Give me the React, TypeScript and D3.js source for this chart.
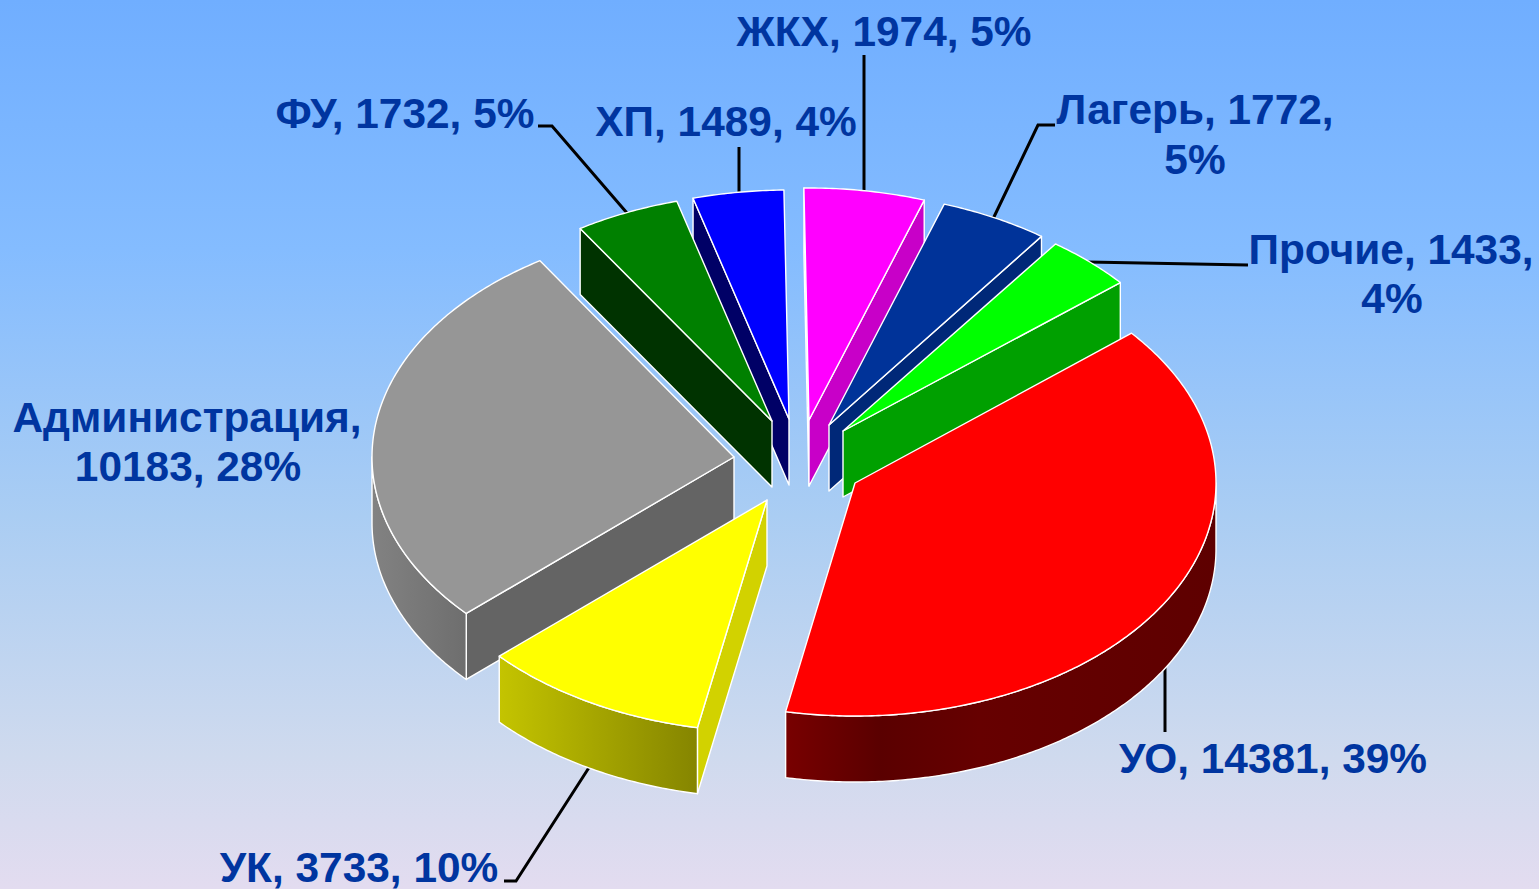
import React from "react";
import * as d3 from "d3";

const WIDTH = 1539;
const HEIGHT = 889;

// ---- data, clockwise from the first slice ----
const categories = ["УО", "УК", "Администрация", "ФУ", "ХП", "ЖКХ", "Лагерь", "Прочие"];
const values = [14381, 3733, 10183, 1732, 1489, 1974, 1772, 1433];
const percents = [39, 10, 28, 5, 4, 5, 5, 4];

// ---- styling ----
const topColors = ["#ff0000", "#ffff00", "#969696", "#008000", "#0000ff", "#ff00ff", "#003399", "#00ff00"];
const faceColors = ["#600000", "#d2d200", "#646464", "#003300", "#000066", "#c800c8", "#002878", "#00a000"];
const wallStops: ([number, string][] | null)[] = [
  [[0, "#780000"], [0.22, "#5a0000"], [0.45, "#660000"], [1, "#5e0000"]],
  [[0, "#c4c400"], [1, "#858500"]],
  [[0, "#828282"], [1, "#6e6e6e"]],
  null, null, null, null, null,
];

// ---- layout ----
const START_DEG = 50;
const DEPTH = 66;
const radiusX = [361, 362, 362, 358, 361, 362, 362, 362];
const radiusY = [233, 232, 232.5, 228, 229, 232, 233, 231];
const apexX = [855, 767, 734, 772, 789, 809, 829, 843];
const apexY = [483, 500, 457, 421, 419, 420, 425, 431];
const drawOrder = [4, 3, 5, 6, 7, 2, 1, 0];

const labelLines = [
  [{ t: `${categories[0]}, ${values[0]}, ${percents[0]}%`, x: 1273, y: 773 }],
  [{ t: `${categories[1]}, ${values[1]}, ${percents[1]}%`, x: 359, y: 882 }],
  [
    { t: `${categories[2]},`, x: 187, y: 432 },
    { t: `${values[2]}, ${percents[2]}%`, x: 188, y: 481 },
  ],
  [{ t: `${categories[3]}, ${values[3]}, ${percents[3]}%`, x: 405, y: 128 }],
  [{ t: `${categories[4]}, ${values[4]}, ${percents[4]}%`, x: 726, y: 136 }],
  [{ t: `${categories[5]}, ${values[5]}, ${percents[5]}%`, x: 884, y: 46 }],
  [
    { t: `${categories[6]}, ${values[6]},`, x: 1195, y: 124 },
    { t: `${percents[6]}%`, x: 1195, y: 174 },
  ],
  [
    { t: `${categories[7]}, ${values[7]},`, x: 1391, y: 264 },
    { t: `${percents[7]}%`, x: 1392, y: 313 },
  ],
];

const leaders: [number, number][][] = [
  [[1165, 665], [1165, 732]],
  [[504, 881], [516, 881], [590, 766]],
  [[538, 126], [552, 126], [627, 213]],
  [[739, 147], [739, 193]],
  [[864, 55], [864, 191]],
  [[1055, 125], [1038, 125], [992, 221]],
  [[1248, 265], [1088, 262]],
];

const TAU = Math.PI * 2;
const line = d3.line<[number, number]>();

const arcs = d3
  .pie<number>()
  .sort(null)
  .value((d) => d)
  .startAngle((START_DEG / 360) * TAU)
  .endAngle((START_DEG / 360) * TAU + TAU)(values);

const rim = (i: number, t: number, dy = 0): [number, number] => [
  apexX[i] + radiusX[i] * Math.sin(t),
  apexY[i] - radiusY[i] * Math.cos(t) + dy,
];

const sample = (a: number, b: number) => {
  const n = Math.max(2, Math.ceil(Math.abs(b - a) / 0.01));
  return d3.range(n + 1).map((k) => a + ((b - a) * k) / n);
};

function App() {
  return (
    <svg
      width={WIDTH}
      height={HEIGHT}
      viewBox={`0 0 ${WIDTH} ${HEIGHT}`}
      style={{ position: "fixed", left: 0, top: 0, display: "block" }}
    >
      <defs>
        <linearGradient id="bg" x1="0" y1="0" x2="0" y2="1">
          <stop offset="0" stopColor="#70aeff" />
          <stop offset="0.28" stopColor="#84bcff" />
          <stop offset="0.58" stopColor="#aacdf3" />
          <stop offset="0.85" stopColor="#cfdaee" />
          <stop offset="1" stopColor="#e3dcf0" />
        </linearGradient>
        {arcs.map((a, i) => {
          const s = wallStops[i];
          if (!s) return null;
          const lo = Math.max(a.startAngle, TAU / 4);
          const hi = Math.min(a.endAngle, (TAU * 3) / 4);
          const xs = sample(lo, hi).map((t) => rim(i, t)[0]);
          return (
            <linearGradient
              key={i}
              id={`wall${i}`}
              gradientUnits="userSpaceOnUse"
              x1={d3.min(xs)}
              x2={d3.max(xs)}
              y1={0}
              y2={0}
            >
              {s.map(([o, c]) => (
                <stop key={o} offset={o} stopColor={c} />
              ))}
            </linearGradient>
          );
        })}
      </defs>
      <rect width={WIDTH} height={HEIGHT} fill="url(#bg)" />

      <g fill="none" stroke="#000" strokeWidth={3}>
        {leaders.map((p, i) => (
          <path key={i} d={line(p) ?? ""} />
        ))}
      </g>

      <g stroke="#fff" strokeWidth={1.4} strokeLinejoin="round">
        {drawOrder.map((i) => {
          const a = arcs[i];
          const cx = apexX[i];
          const cy = apexY[i];
          const s0 = a.startAngle;
          const s1 = a.endAngle;
          const apex: [number, number] = [cx, cy];
          const apexLow: [number, number] = [cx, cy + DEPTH];
          const radial = (t: number) =>
            line([apex, rim(i, t), rim(i, t, DEPTH), apexLow]) + "Z";
          const lo = Math.max(s0, TAU / 4);
          const hi = Math.min(s1, (TAU * 3) / 4);
          const wall =
            hi > lo
              ? line([
                  ...sample(lo, hi).map((t) => rim(i, t)),
                  ...sample(hi, lo).map((t) => rim(i, t, DEPTH)),
                ]) + "Z"
              : null;
          const top = line([apex, ...sample(s0, s1).map((t) => rim(i, t))]) + "Z";
          return (
            <g key={categories[i]}>
              {Math.sin(s0) < 0 && <path d={radial(s0)} fill={faceColors[i]} />}
              {Math.sin(s1) > 0 && <path d={radial(s1)} fill={faceColors[i]} />}
              {wall && <path d={wall} fill={`url(#wall${i})`} />}
              <path d={top} fill={topColors[i]} />
            </g>
          );
        })}
      </g>

      <g
        fontFamily="'Liberation Sans', Arial, sans-serif"
        fontWeight={700}
        fontSize={42.4}
        fill="#0035a0"
        textAnchor="middle"
      >
        {labelLines.flat().map((l, i) => (
          <text key={i} x={l.x} y={l.y}>
            {l.t}
          </text>
        ))}
      </g>
    </svg>
  );
}

export default App;
